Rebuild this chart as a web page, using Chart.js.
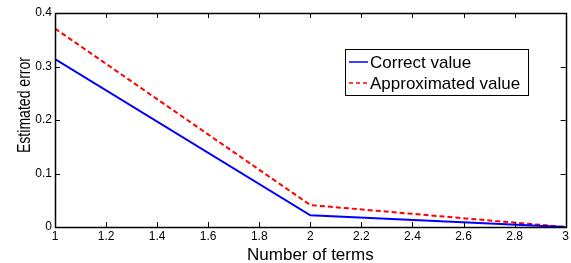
<!DOCTYPE html>
<html>
<head>
<meta charset="utf-8">
<script src="https://cdn.jsdelivr.net/npm/chart.js@4/dist/chart.umd.min.js"></script>
<style>
  html, body { margin: 0; padding: 0; background: #fff; }
  #wrap { width: 571px; height: 263px; }
</style>
</head>
<body>
<div id="wrap"><canvas id="c" width="571" height="263"></canvas></div>
<script>
// data
var terms = [1, 2, 3]
var correctValue = [0.314, 0.022, 0.0]
var approxValue = [0.371, 0.041, 0.0]
var xTicks = [1, 1.2, 1.4, 1.6, 1.8, 2, 2.2, 2.4, 2.6, 2.8, 3]
var yTicks = [0, 0.1, 0.2, 0.3, 0.4]
var seriesNames = ["Correct value", "Approximated value"]
var xTitle = "Number of terms"
var yTitle = "Estimated error"

var FONT = "'Liberation Sans', Arial, sans-serif"

function pts(xs, ys) {
    var out = []
    for (var i = 0; i < xs.length; i++) out.push({x: xs[i], y: ys[i]})
    return out
}

// matlab style box with inward ticks, axis titles + legend
var matlabBox = {
    id: 'matlabBox',
    afterDatasetsDraw: function(chart) {
        var ctx = chart.ctx
        var a = chart.chartArea
        var xs = chart.scales.x, ys = chart.scales.y
        ctx.save()
        ctx.strokeStyle = '#000'
        ctx.lineWidth = 1
        ctx.beginPath()
        for (var i = 0; i < xTicks.length; i++) {
            var px = Math.round(xs.getPixelForValue(xTicks[i])) + 0.5
            ctx.moveTo(px, a.bottom); ctx.lineTo(px, a.bottom - 5)
            ctx.moveTo(px, a.top); ctx.lineTo(px, a.top + 5)
        }
        for (var j = 0; j < yTicks.length; j++) {
            var py = Math.round(ys.getPixelForValue(yTicks[j])) + 0.5
            ctx.moveTo(a.left, py); ctx.lineTo(a.left + 5, py)
            ctx.moveTo(a.right, py); ctx.lineTo(a.right - 5, py)
        }
        ctx.stroke()
        ctx.lineWidth = 1.5
        ctx.strokeRect(Math.round(a.left) + 0.5, Math.round(a.top) + 0.5, Math.round(a.right - a.left), Math.round(a.bottom - a.top))

        // axis titles
        ctx.fillStyle = '#000'
        ctx.font = '17px ' + FONT
        ctx.textAlign = 'center'
        ctx.textBaseline = 'alphabetic'
        ctx.fillText(xTitle, (a.left + a.right) / 2, 260)
        ctx.save()
        ctx.translate(30, 105)
        ctx.rotate(-Math.PI / 2)
        ctx.scale(0.74, 1)
        ctx.font = '19px ' + FONT
        ctx.fillText(yTitle, 0, 0)
        ctx.restore()

        // legend
        var lx = 345, ly = 49, lw = 183, lh = 46
        ctx.fillStyle = '#fff'
        ctx.fillRect(lx, ly, lw, lh)
        ctx.lineWidth = 1
        ctx.strokeStyle = '#000'
        ctx.strokeRect(lx + 0.5, ly + 0.5, lw, lh)
        var colors = ['#0000ff', '#ff0000']
        var dashes = [[], [4, 3]]
        ctx.font = '17px ' + FONT
        ctx.textAlign = 'left'
        ctx.textBaseline = 'middle'
        for (var k = 0; k < seriesNames.length; k++) {
            var yy = ly + 13 + k * 21
            ctx.strokeStyle = colors[k]
            ctx.lineWidth = 1.5
            ctx.setLineDash(dashes[k])
            ctx.beginPath()
            ctx.moveTo(lx + 4, yy); ctx.lineTo(lx + 23, yy)
            ctx.stroke()
            ctx.setLineDash([])
            ctx.fillStyle = '#000'
            ctx.fillText(seriesNames[k], lx + 25, yy + 1)
        }
        ctx.restore()
    }
}

new Chart("c", {
    type: "line",
    data: {
        datasets: [{
            label: seriesNames[0],
            data: pts(terms, correctValue),
            borderColor: "#0000ff",
            borderWidth: 2,
            pointRadius: 0,
            tension: 0
        }, {
            label: seriesNames[1],
            data: pts(terms, approxValue),
            borderColor: "#ff0000",
            borderWidth: 2,
            borderDash: [5, 3],
            pointRadius: 0,
            tension: 0
        }]
    },
    options: {
        responsive: false,
        animation: false,
        events: [],
        layout: {padding: {left: 0, top: 13, right: 5, bottom: 0}},
        plugins: {legend: {display: false}, tooltip: {enabled: false}},
        scales: {
            x: {
                type: "linear",
                min: 1, max: 3,
                afterBuildTicks: function(s) { s.ticks = xTicks.map(function(v) { return {value: v} }) },
                afterFit: function(s) { s.height = 36 },
                grid: {display: false, drawTicks: false},
                border: {display: false},
                ticks: {
                    color: "#000", padding: 2,
                    font: {family: FONT, size: 12},
                    maxRotation: 0,
                    callback: function(v) { return String(Math.round(v * 10) / 10) }
                }
            },
            y: {
                type: "linear",
                min: 0, max: 0.4,
                afterBuildTicks: function(s) { s.ticks = yTicks.map(function(v) { return {value: v} }) },
                afterFit: function(s) { s.width = 55 },
                grid: {display: false, drawTicks: false},
                border: {display: false},
                ticks: {
                    color: "#000", padding: 3,
                    font: {family: FONT, size: 12},
                    callback: function(v) { return String(Math.round(v * 10) / 10) }
                }
            }
        }
    },
    plugins: [matlabBox]
});
</script>
</body>
</html>
